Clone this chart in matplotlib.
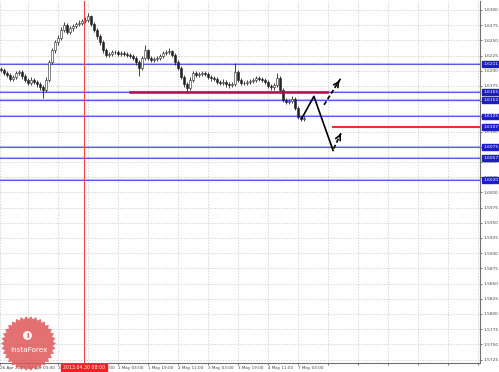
import matplotlib
matplotlib.use("Agg")
import matplotlib.pyplot as plt
import numpy as np
from matplotlib.transforms import blended_transform_factory
from matplotlib.patches import Polygon, Circle

# ---------------- data ----------------
first_open = 1.6203
closes = [1.6201, 1.6196, 1.6193, 1.6187, 1.6190, 1.6196, 1.6198, 1.6191, 1.6185, 1.6180,
          1.6185, 1.6182, 1.6178, 1.6173, 1.6168, 1.6185, 1.6214, 1.6234, 1.6247, 1.6254,
          1.6267, 1.6275, 1.6264, 1.6270, 1.6274, 1.6277, 1.6279, 1.6282, 1.6284, 1.6290,
          1.6277, 1.6267, 1.6257, 1.6247, 1.6234, 1.6226, 1.6228, 1.6231, 1.6231, 1.6228,
          1.6229, 1.6228, 1.6226, 1.6224, 1.6221, 1.6214, 1.6205, 1.6221, 1.6234, 1.6221,
          1.6218, 1.6219, 1.6221, 1.6224, 1.6229, 1.6231, 1.6233, 1.6226, 1.6214, 1.6205,
          1.6190, 1.6178, 1.6172, 1.6185, 1.6196, 1.6193, 1.6195, 1.6196, 1.6195, 1.6190,
          1.6188, 1.6187, 1.6182, 1.6180, 1.6182, 1.6178, 1.6177, 1.6178, 1.6198, 1.6185,
          1.6180, 1.6180, 1.6182, 1.6183, 1.6185, 1.6188, 1.6187, 1.6185, 1.6182, 1.6175,
          1.6173, 1.6177, 1.6188, 1.6168, 1.6152, 1.6149, 1.6150, 1.6154, 1.6139, 1.6124,
          1.6121, 1.6122]
highs = [1.6206, 1.6204, 1.6199, 1.6196, 1.6193, 1.6200, 1.6202, 1.6201, 1.6194, 1.6188,
         1.6189, 1.6188, 1.6185, 1.6181, 1.6176, 1.6189, 1.6218, 1.6238, 1.6251, 1.6259,
         1.6272, 1.6280, 1.6278, 1.6274, 1.6277, 1.6281, 1.6283, 1.6286, 1.6288, 1.6295,
         1.6292, 1.6280, 1.6270, 1.6260, 1.6250, 1.6237, 1.6231, 1.6234, 1.6234, 1.6234,
         1.6232, 1.6232, 1.6231, 1.6229, 1.6227, 1.6224, 1.6217, 1.6225, 1.6242, 1.6236,
         1.6224, 1.6223, 1.6224, 1.6227, 1.6232, 1.6234, 1.6238, 1.6235, 1.6229, 1.6217,
         1.6208, 1.6193, 1.6181, 1.6189, 1.6200, 1.6199, 1.6198, 1.6199, 1.6199, 1.6198,
         1.6193, 1.6191, 1.6190, 1.6185, 1.6186, 1.6185, 1.6181, 1.6182, 1.6213, 1.6201,
         1.6188, 1.6184, 1.6185, 1.6186, 1.6188, 1.6191, 1.6191, 1.6190, 1.6188, 1.6185,
         1.6178, 1.6180, 1.6196, 1.6191, 1.6171, 1.6156, 1.6154, 1.6158, 1.6157, 1.6142,
         1.6127, 1.6125]
lows = [1.6198, 1.6193, 1.6189, 1.6184, 1.6183, 1.6187, 1.6193, 1.6187, 1.6181, 1.6176,
        1.6177, 1.6178, 1.6174, 1.6169, 1.6155, 1.6165, 1.6182, 1.6211, 1.6230, 1.6243,
        1.6250, 1.6263, 1.6260, 1.6261, 1.6266, 1.6271, 1.6274, 1.6276, 1.6279, 1.6280,
        1.6273, 1.6263, 1.6253, 1.6243, 1.6230, 1.6222, 1.6223, 1.6225, 1.6227, 1.6225,
        1.6225, 1.6225, 1.6223, 1.6221, 1.6217, 1.6210, 1.6191, 1.6202, 1.6218, 1.6217,
        1.6214, 1.6215, 1.6216, 1.6218, 1.6221, 1.6226, 1.6228, 1.6222, 1.6210, 1.6201,
        1.6186, 1.6174, 1.6163, 1.6169, 1.6182, 1.6189, 1.6190, 1.6191, 1.6191, 1.6186,
        1.6184, 1.6183, 1.6178, 1.6176, 1.6177, 1.6174, 1.6172, 1.6173, 1.6175, 1.6181,
        1.6176, 1.6176, 1.6177, 1.6179, 1.6180, 1.6182, 1.6183, 1.6181, 1.6178, 1.6171,
        1.6169, 1.6169, 1.6174, 1.6164, 1.6148, 1.6145, 1.6146, 1.6147, 1.6135, 1.6120,
        1.6117, 1.6118]

blue_levels = [1.6211, 1.6165, 1.6152, 1.6125, 1.6075, 1.6057, 1.6020]
red_level = 1.6107
label_levels = [1.6211, 1.6165, 1.6152, 1.6125, 1.6107, 1.6075, 1.6057, 1.6020]
magenta_level = 1.6165
magenta_span = [43.0, 108.7]
red_span_start = 110.7

zigzag_x = [100.3, 104.3, 110.7]
zigzag_y = [1.6122, 1.6158, 1.6069]
dash_low_x = [110.9, 113.3]
dash_low_y = [1.6072, 1.6097]
dash_up_x = [107.7, 113.3]
dash_up_y = [1.6144, 1.6188]

marker_bar = 27.67
marker_label = "2013.04.30 08:00"

time_tick_pos = [-0.3, 9, 19, 29, 39, 49, 59, 69, 79, 89, 99]
time_tick_labels = ["26 Apr 2013", "29 Apr 03:00", "29 Apr 19:00", "30 Apr 11:00",
                    "1 May 03:00", "1 May 19:00", "2 May 11:00", "3 May 03:00",
                    "3 May 19:00", "4 May 11:00", "7 May 03:00"]
grid_extra = [109, 119, 129, 139, 149, 159]

price_ticks = [1.6300, 1.6275, 1.6250, 1.6225, 1.6200, 1.6175, 1.6150, 1.6125, 1.6100,
               1.6075, 1.6050, 1.6025, 1.6000, 1.5975, 1.5950, 1.5925, 1.5900, 1.5875,
               1.5850, 1.5825, 1.5800, 1.5775, 1.5750, 1.5725]

# ---------------- figure ----------------
W, H = 499, 372
fig = plt.figure(figsize=(W / 100, H / 100), dpi=100)
fig.patch.set_facecolor("white")
ax = fig.add_axes([0, 9 / H, 480 / W, 362 / H])
ax.set_facecolor("white")
ax.set_xlim(-0.33, 159.67)
ax.set_ylim(1.57194, 1.63148)

# grid / ticks
ax.set_yticks(price_ticks)
ax.set_yticklabels([f"{p:.4f}" for p in price_ticks])
ax.yaxis.tick_right()
ax.tick_params(axis="y", labelsize=3.1, length=1.5, pad=0.8, colors="#444444", width=0.5)
xt = time_tick_pos + grid_extra
ax.set_xticks(xt)
ax.set_xticklabels(time_tick_labels + [""] * len(grid_extra))
for lab in ax.get_xticklabels():
    lab.set_horizontalalignment("left")
ax.tick_params(axis="x", labelsize=3.0, length=1.5, pad=0.8, colors="#444444", width=0.5)
ax.grid(True, color="#c8c8c8", linestyle=(0, (2, 2)), linewidth=0.5)
ax.set_axisbelow(True)
for s in ["left", "top"]:
    ax.spines[s].set_visible(False)
for s in ["right", "bottom"]:
    ax.spines[s].set_color("#707070")
    ax.spines[s].set_linewidth(0.8)

# candles
opens = [first_open] + closes[:-1]
idx = np.arange(len(closes))
o = np.array(opens); c = np.array(closes)
ax.vlines(idx, lows, highs, color="#222222", linewidth=0.6, zorder=3)
bull = c >= o
body_lo = np.minimum(o, c)
body_h = np.maximum(np.abs(c - o), 0.00004)
ax.bar(idx[bull], body_h[bull], bottom=body_lo[bull], width=0.7, facecolor="white",
       edgecolor="#222222", linewidth=0.4, zorder=4)
ax.bar(idx[~bull], body_h[~bull], bottom=body_lo[~bull], width=0.7, facecolor="#222222",
       edgecolor="#222222", linewidth=0.4, zorder=4)

# levels
for lv in blue_levels:
    ax.axhline(lv, color="#8a8af5", linewidth=1.6, alpha=0.6, zorder=2)
    ax.axhline(lv, color="#4848e8", linewidth=0.6, zorder=2)
ax.plot([red_span_start, 159.2], [red_level, red_level], color="#ee3030", linewidth=1.5, zorder=5)
ax.plot(magenta_span, [magenta_level, magenta_level], color="#b0104a", linewidth=1.8, zorder=5)

# vertical marker
ax.axvline(marker_bar, color="#ff4040", linewidth=0.8, zorder=5)

# zigzag + arrows
ax.plot(zigzag_x, zigzag_y, color="black", linewidth=1.2, zorder=6)
ax.plot(dash_low_x, dash_low_y, color="black", linewidth=1.2, linestyle=(0, (2.5, 1.5)), zorder=6)
ax.plot(dash_up_x, dash_up_y, color="black", linewidth=1.2, linestyle=(0, (2.5, 1.5)), zorder=6)
for xs, ys in [(dash_low_x, dash_low_y), (dash_up_x, dash_up_y)]:
    ax.annotate("", xy=(xs[1], ys[1]),
                xytext=(xs[1] - (xs[1] - xs[0]) * 0.2, ys[1] - (ys[1] - ys[0]) * 0.2),
                arrowprops=dict(arrowstyle="->", color="black", lw=1.2, mutation_scale=9),
                zorder=7)

# level labels on right axis
tr = blended_transform_factory(ax.transAxes, ax.transData)
for lv in label_levels:
    ax.text(1.007, lv, f"{lv:.4f}", transform=tr, fontsize=3.2, color="white",
            va="center", ha="left", clip_on=False, zorder=10,
            bbox=dict(boxstyle="square,pad=0.2", facecolor="#1c1cc8", edgecolor="#1c1cc8"))

# marker date label
trx = blended_transform_factory(ax.transData, ax.transAxes)
ax.text(marker_bar, -0.0125, marker_label, transform=trx, fontsize=3.4, color="white",
        ha="center", va="center", clip_on=False, zorder=10,
        bbox=dict(boxstyle="square,pad=0.3", facecolor="#ee2020", edgecolor="#ee2020"))

# watermark overlay
ov = fig.add_axes([0, 0, 1, 1], facecolor="none")
ov.set_xlim(0, W); ov.set_ylim(H, 0); ov.axis("off")
cx, cy, r_out, r_in, n = 28.5, 343.5, 27.5, 24.5, 34
ang = np.linspace(0, 2 * np.pi, 2 * n, endpoint=False)
rad = np.where(np.arange(2 * n) % 2 == 0, r_out, r_in)
ov.add_patch(Polygon(np.column_stack([cx + rad * np.cos(ang), cy + rad * np.sin(ang)]),
                     closed=True, facecolor="#e05858", edgecolor="none", alpha=0.85, zorder=1))
ov.add_patch(Circle((cx - 1, cy - 8), 4.5, facecolor="white", edgecolor="none", alpha=0.9, zorder=2))
ov.text(cx - 1, cy - 8, "i", fontsize=5, color="#e05858", ha="center", va="center",
        fontweight="bold", zorder=3)
ov.text(cx, cy + 6, "InstaForex", fontsize=5.2, color="white", ha="center", va="center", zorder=3)

fig.savefig("out.png", dpi=100, facecolor="white")
